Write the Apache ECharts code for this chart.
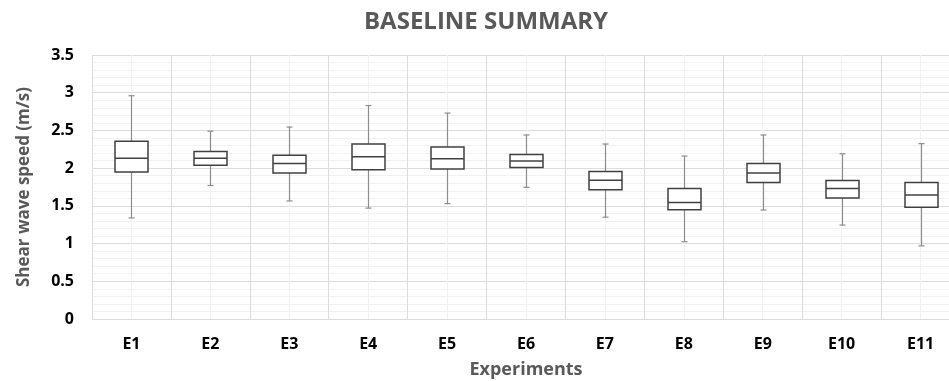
<!DOCTYPE html>
<html>
<head>
<meta charset="utf-8">
<script src="https://cdn.jsdelivr.net/npm/echarts@6/dist/echarts.min.js"></script>
<style>
  html, body { margin: 0; padding: 0; background: #fff; }
  #chart { width: 949px; height: 381px; }
</style>
</head>
<body>
<div id="chart"></div>
<script>
const categories = ['E1', 'E2', 'E3', 'E4', 'E5', 'E6', 'E7', 'E8', 'E9', 'E10', 'E11']
const mins    = [1.34, 1.77, 1.565, 1.47, 1.53, 1.745, 1.35, 1.025, 1.445, 1.245, 0.97]
const q1s     = [1.95, 2.04, 1.935, 1.98, 1.99, 2.01, 1.715, 1.45, 1.81, 1.605, 1.48]
const medians = [2.13, 2.13, 2.06, 2.15, 2.125, 2.095, 1.84, 1.545, 1.935, 1.73, 1.645]
const q3s     = [2.355, 2.22, 2.17, 2.32, 2.28, 2.18, 1.955, 1.73, 2.06, 1.835, 1.81]
const maxs    = [2.96, 2.49, 2.545, 2.83, 2.73, 2.44, 2.32, 2.16, 2.44, 2.19, 2.325]
const yTicks  = { min: 0, max: 3.5, interval: 0.5 }

const chart = echarts.init(document.getElementById('chart'))

const rows = categories.map((c, i) => [i, mins[i], q1s[i], medians[i], q3s[i], maxs[i]])

function renderBox(params, api) {
  const x = api.value(0)
  const pMin = api.coord([x, api.value(1)])
  const pQ1 = api.coord([x, api.value(2)])
  const pMed = api.coord([x, api.value(3)])
  const pQ3 = api.coord([x, api.value(4)])
  const pMax = api.coord([x, api.value(5)])
  const cx = Math.round(pMed[0]) + 0.5
  const half = 16.5
  const cap = 3
  const whisker = { stroke: '#8c8c8c', lineWidth: 1.2 }
  const boxStyle = { stroke: '#404040', lineWidth: 1.5, fill: '#fff' }
  return {
    type: 'group',
    children: [
      { type: 'line', shape: { x1: cx, y1: pMax[1], x2: cx, y2: pQ3[1] }, style: whisker },
      { type: 'line', shape: { x1: cx, y1: pQ1[1], x2: cx, y2: pMin[1] }, style: whisker },
      { type: 'line', shape: { x1: cx - cap, y1: pMax[1], x2: cx + cap, y2: pMax[1] }, style: whisker },
      { type: 'line', shape: { x1: cx - cap, y1: pMin[1], x2: cx + cap, y2: pMin[1] }, style: whisker },
      { type: 'rect', shape: { x: cx - half, y: pQ3[1], width: half * 2, height: pQ1[1] - pQ3[1] }, style: boxStyle },
      { type: 'line', shape: { x1: cx - half, y1: pMed[1], x2: cx + half, y2: pMed[1] }, style: { stroke: '#404040', lineWidth: 1.5 } }
    ]
  }
}

chart.setOption({
  animation: false,
  textStyle: { fontFamily: 'Open Sans' },
  title: {
    text: 'BASELINE SUMMARY',
    left: 481,
    top: 5,
    textAlign: 'center',
    textStyle: { color: '#595959', fontSize: 24, fontWeight: 'bold', fontFamily: 'Open Sans' }
  },
  grid: { left: 92, top: 55, width: 868, height: 264, outerBoundsMode: 'none', containLabel: false },
  xAxis: [
    {
      type: 'category',
      data: categories,
      boundaryGap: true,
      name: 'Experiments',
      nameLocation: 'middle',
      nameGap: 42,
      nameTextStyle: { color: '#595959', fontSize: 18, fontWeight: 'bold' },
      axisLine: { show: false },
      axisTick: { show: false },
      splitLine: { show: false },
      axisLabel: { color: '#000', fontSize: 16, fontWeight: 'bold', margin: 17 }
    },
    {
      // invisible helper axis for the vertical grid (boundaries + centre lines)
      type: 'value',
      min: 0,
      max: 11,
      interval: 1,
      position: 'bottom',
      axisLine: { show: false },
      axisTick: { show: false },
      axisLabel: { show: false },
      splitLine: { show: true, lineStyle: { color: '#dcdcdc', width: 1 } },
      minorTick: { show: false, splitNumber: 2 },
      minorSplitLine: { show: true, lineStyle: { color: '#f1f1f1', width: 1 } }
    }
  ],
  yAxis: {
    type: 'value',
    min: yTicks.min,
    max: yTicks.max,
    interval: yTicks.interval,
    name: 'Shear wave speed (m/s)',
    nameLocation: 'middle',
    nameGap: 59,
    nameTextStyle: { color: '#595959', fontSize: 17, fontWeight: 'bold' },
    axisLine: { show: false },
    axisTick: { show: false },
    axisLabel: { color: '#000', fontSize: 16, fontWeight: 'bold', margin: 18 },
    splitLine: { show: true, lineStyle: { color: '#dcdcdc', width: 1 } },
    minorTick: { show: false, splitNumber: 5 },
    minorSplitLine: { show: true, lineStyle: { color: '#f1f1f1', width: 1 } }
  },
  series: [
    {
      type: 'custom',
      xAxisIndex: 0,
      yAxisIndex: 0,
      renderItem: renderBox,
      encode: { x: 0, y: [1, 2, 3, 4, 5] },
      data: rows,
      z: 3
    }
  ]
})
</script>
</body>
</html>
